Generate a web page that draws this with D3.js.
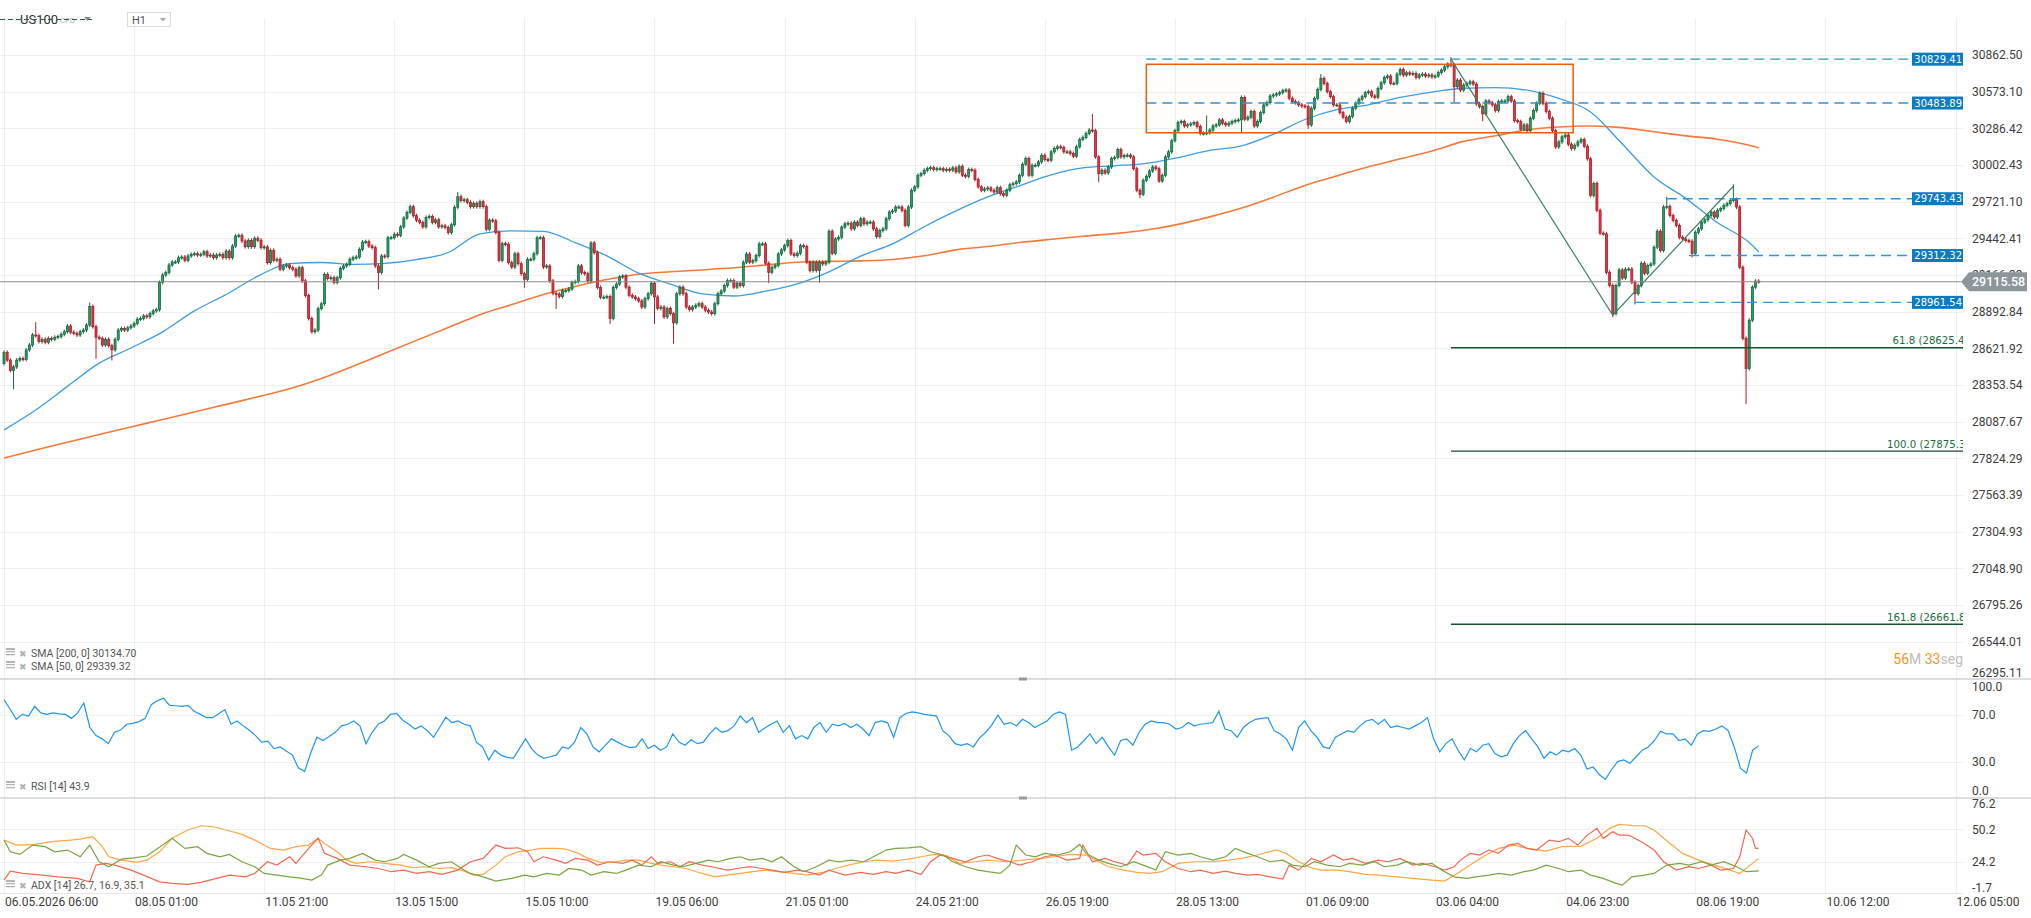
<!DOCTYPE html>
<html>
<head>
<meta charset="utf-8">
<title>US100 H1</title>
<script src="https://cdn.jsdelivr.net/npm/d3@7"></script>
<style>
  body { margin: 0; background: #fff; }
  svg { display: block; font-family: Roboto, 'Noto Sans', sans-serif; }
</style>
</head>
<body>
<svg id="chart" width="2031" height="918"></svg>
<script>
// ---- values ----
const timeLabels = ['06.05.2026 06:00', '08.05 01:00', '11.05 21:00', '13.05 15:00', '15.05 10:00',
  '19.05 06:00', '21.05 01:00', '24.05 21:00', '26.05 19:00', '28.05 13:00', '01.06 09:00',
  '03.06 04:00', '04.06 23:00', '08.06 19:00', '10.06 12:00', '12.06 05:00']
const priceTicks = [30862.50, 30573.10, 30286.42, 30002.43, 29721.10, 29442.41, 29166.33, 28892.84,
  28621.92, 28353.54, 28087.67, 27824.29, 27563.39, 27304.93, 27048.90, 26795.26, 26544.01, 26295.11]
const rsiTicks = [100, 70, 30, 0]
const adxTicks = [76.2, 50.2, 24.2, -1.7]

const firstOpen = 28510
const closes = [
  28592,28535,28460,28485,28535,28547,28540,28610,28646,28720,
  28715,28671,28688,28666,28695,28688,28703,28708,28725,28744,
  28786,28740,28732,28720,28744,28756,28793,28932,28781,28703,
  28695,28646,28688,28641,28610,28688,28756,28768,28756,28773,
  28786,28805,28837,28842,28861,28854,28878,28898,28907,29110,
  29166,29184,29241,29264,29264,29296,29301,29276,29309,29321,
  29326,29316,29321,29341,29309,29316,29296,29316,29321,29296,
  29346,29296,29384,29460,29465,29422,29379,29427,29379,29442,
  29427,29372,29377,29259,29351,29276,29284,29209,29234,29241,
  29221,29209,29159,29221,29122,29012,28842,28744,28756,28915,
  28951,29171,29139,29146,29110,29146,29216,29234,29246,29284,
  29296,29301,29359,29414,29417,29384,29372,29234,29184,29309,
  29304,29447,29447,29473,29465,29529,29596,29639,29683,29614,
  29580,29563,29529,29601,29609,29563,29583,29529,29537,29524,
  29486,29545,29678,29759,29729,29736,29716,29683,29708,29683,
  29721,29683,29511,29580,29575,29486,29276,29402,29397,29259,
  29226,29326,29251,29176,29134,29284,29284,29326,29447,29447,
  29226,29234,29122,29029,29024,29005,29049,29049,29061,29110,
  29117,29234,29184,29176,29122,29407,29334,29073,29000,29000,
  29005,28842,29073,29098,29151,29159,
  29075,29014,29002,28989,28972,28927,28989,29026,29105,29002,
  28916,28927,28854,28916,28878,28810,29026,29075,29026,28927,
  28908,28927,28940,28952,28927,28903,28890,28878,28952,29026,
  29046,29087,29124,29124,29075,29105,29087,29262,29324,29262,
  29274,29312,29400,29400,29254,29186,29224,29237,29324,29355,
  29387,29425,29324,29312,29329,29387,29380,29262,29199,29262,
  29199,29262,29249,29262,29496,29329,29437,29450,29527,29552,
  29557,29514,29565,29540,29591,29552,29565,29565,29514,29455,
  29501,29514,29591,29642,29650,29680,29680,29655,29540,29680,
  29808,29834,29923,29936,29962,29974,29982,29967,29974,29974,
  29962,29969,29962,29980,29949,29992,29923,29915,29967,29962,
  29890,29834,29808,29818,29826,29808,29795,29828,29782,29770,
  29808,29851,29859,29872,29923,30008,30052,29923,30000,30000,
  30026,30078,30044,30039,30104,30130,30143,30138,30104,30104,
  30091,30070,30143,30200,30216,30247,30273,30268,30065,29936,
  29962,29941,29987,30052,30060,30122,30065,30075,30078,30065,
  29974,29808,29777,29885,29915,29956,29987,29974,29879,29923,
  30065,30104,30190,30268,30331,30339,30305,30313,30321,30331,
  30300,30247,30247,30252,30273,30305,30313,30352,30326,30313,
  30326,30339,30347,30352,30528,30357,30373,30417,30305,30339,
  30409,30469,30487,30539,30547,30555,30565,30581,30586,30521,
  30495,30487,30469,30461,30456,30313,30443,30521,30591,30677,
  30638,30573,30534,30469,30469,30409,30373,30339,30378,30443,
  30482,30513,30534,30565,30573,30539,30529,30599,30643,30685,
  30696,30638,30638,30711,30748,30704,30722,30711,30717,30685,
  30704,30711,30696,30704,30690,30696,30724,30743,30769,30790,
  30780,30612,30664,30586,30625,30638,30651,30633,30477,30456,
  30399,30500,30487,30470,30425,30495,30500,
  30500,30534,30500,30346,30339,30279,30313,30268,30365,30425,
  30482,30560,30482,30417,30365,30268,30142,30181,30221,30234,
  30163,30129,30155,30181,30200,30147,30050,29769,29860,29655,
  29481,29476,29186,29088,28878,29088,29204,29144,29209,29211,
  29112,29026,29088,29254,29179,29237,29249,29375,29496,29350,
  29680,29685,29616,29578,29540,29450,29437,29425,29420,29329,
  29488,29514,29565,29583,29616,29642,29604,29655,29668,29693,
  29706,29732,29737,29680,29224,28695,28473,28829,29075,29120,
  29115.58
]
// long wicks that stand out (bar index, price)
const wickHighs = [[10, 28800], [27, 28946], [143, 29779], [343, 30383], [379, 30370], [415, 30696],
  [456, 30829.41], [524, 29743.43], [545, 29838.94]]
const wickLows = [[3, 28336], [29, 28560], [34, 28547], [118, 29073], [164, 29085], [174, 28927],
  [191, 28817], [205, 28817], [211, 28670], [241, 29120], [257, 29124], [345, 29885], [358, 29762],
  [390, 30273], [411, 30297], [457, 30503], [466, 30357], [507, 28865.82], [514, 28961.54],
  [532, 29312.32], [549, 28230]]

// moving averages, one value every 10 bars, last one at the last bar
const sma50 = [
  28028,28172,28343,28513,28624,28743,28898,29020,29157,29252,
  29260,29245,29253,29282,29335,29476,29499,29495,29410,29310,
  29180,29098,29025,29009,29045,29100,29190,29308,29400,29530,
  29650,29757,29842,29926,29980,29996,30015,30060,30115,30150,
  30240,30355,30432,30470,30528,30570,30600,30605,30585,30520,
  30414,30165,29910,29746,29560,29410,29339.32]
const sma200 = [
  27825,27884,27939,27995,28049,28103,28157,28212,28267,28325,
  28400,28490,28585,28680,28775,28870,28945,29020,29080,29132,
  29172,29190,29204,29220,29241,29262,29268,29272,29282,29310,
  29355,29380,29410,29435,29458,29478,29505,29548,29605,29672,
  29755,29845,29918,29988,30050,30110,30185,30228,30275,30297,
  30304,30292,30260,30228,30202,30155,30134.70]

// RSI 14, evenly spread over the bars
const rsi = [
  83.1,75,66.4,70.6,69.2,77.5,71.9,70.6,71.9,71,
  70.6,67.2,71.9,80.3,59.4,52.5,49.7,45.6,55.3,57.2,
  62.2,63,64.4,67.2,78.9,82.2,84.4,78.3,78,77.5,
  78.3,73.3,70.6,67.8,67.8,71.1,74.7,62.2,65,60.8,
  57,52.5,46.9,47.8,41.4,42.8,39.4,35.8,24.7,21.9,
  37.8,51.1,48.3,51.7,55.3,60.8,62.2,65,60.8,45.6,
  55.3,62.2,65,70.6,71.4,65.6,62.2,58.1,60.8,56.7,
  51.1,59.4,68.3,63.6,65,62.2,60.8,46.9,42.8,31.7,
  40,35.8,33.9,33.1,41.4,49.7,41.4,35.8,33.1,34.4,
  35.8,42.8,41.4,46.9,59.4,53.9,42.8,38.6,44.2,49.7,
  46.9,44.2,42.2,42.8,49.7,41.4,44.2,40,42.8,53.9,
  46.9,44.2,48.9,45.6,46.9,53.9,59.4,55.3,56.7,60.8,
  69.2,63.6,67.8,55.3,58.9,62.2,65,55.3,60.8,49.7,
  52.5,49.7,59.4,63.6,55.3,62.2,60.8,62.8,59.4,62.2,
  58.1,52.5,63.6,65,63.6,51.1,67.8,71.4,72.8,71.9,
  70.6,70,69.2,56.7,52.5,45.6,44.2,45.6,42.8,50.6,
  55.3,61.7,70,62.2,63.6,60.8,66.4,63.6,59.4,62.2,
  65,70.6,72.8,70.6,40,42.8,48.3,53.9,45.6,51.1,
  42.8,35.8,48.3,49.7,44.2,55.3,62.2,65,63.6,63.6,
  62.2,58.1,59.4,63.6,60.8,62.2,62.8,63.6,73.3,58.1,
  56.7,51.1,59.4,63.6,66.4,67.2,67.8,56.7,53.9,49.7,
  40,59.4,65,56.7,51.1,42.8,41.4,51.1,53.9,56.7,
  55.3,60.8,65,66.4,62.2,66.4,59.4,60.8,59.4,58.1,
  60.8,63.6,67.8,49.7,38.6,45.6,49.7,40,31.7,41.4,
  38.6,44.2,45.6,37.2,34.4,35.8,45.6,52.5,56.7,49.7,
  42.8,33.1,38.6,35.8,40,38.6,41.4,35.8,23.9,25.6,
  19.2,15,23.3,30.3,31.7,28.9,34.4,40,42.8,48.3,
  56.1,53.9,53.9,48.3,49.7,44.2,53.9,56.7,56.1,58.1,
  60.8,56.7,42.8,24.7,20.6,40,43.9]

// ADX 14 lines as [bar, value]
const adx = [[0,41.6],[4,37.6],[10,38.1],[15,40.3],[21,41.6],[24,42.4],[28,44.3],[31,36.3],[33,28.2],[37,25.5],
  [42,23.7],[45,25.5],[49,32.2],[53,43],[58,49.7],[62,53.1],[66,52.3],[70,49.7],[75,46.2],[79,41.6],
  [84,34.9],[88,33.6],[92,36.3],[96,37.6],[99,43],[101,38.9],[105,32.2],[108,25.5],[111,22.9],[115,24.2],
  [120,22.9],[125,21.5],[129,19.4],[132,20.2],[137,18.8],[141,19.4],[145,16.7],[148,13.5],[151,14],[155,21.5],
  [158,28.2],[162,32.2],[166,33.6],[169,34.9],[174,34.9],[177,34.4],[181,30.9],[184,26.9],[188,23.7],[193,24.2],
  [196,25.5],[200,25.5],[204,22.9],[207,21.5],[211,20.2],[215,18.8],[220,14.8],[224,12.1],[228,13.5],[232,14.8],
  [236,16.2],[240,17.5],[244,16.2],[249,14.8],[253,13.5],[258,15.6],[263,19.4],[266,21.5],[271,24.2],[275,25.5],
  [280,24.7],[285,26.3],[289,28.2],[293,30.1],[297,29.1],[301,22.9],[306,24.2],[310,25.5],[316,24.2],[321,25.5],
  [327,26.9],[331,28.2],[336,30.1],[341,29.6],[345,24.2],[348,20.2],[353,17.5],[357,15.6],[361,14.8],[365,16.2],
  [370,22.9],[375,24.2],[381,24.2],[386,25.5],[390,26.9],[395,29.6],[401,33.6],[404,30.9],[408,24.2],[412,19.4],
  [415,17.5],[420,17.5],[424,16.2],[429,14],[433,13.5],[439,12.1],[444,10.8],[450,9.5],[454,8.7],[458,14.8],
  [462,21.5],[467,29.6],[471,34.9],[476,37.6],[480,34.9],[486,32.8],[491,36.3],[497,36.8],[502,43],[506,51],
  [509,54.2],[514,53.1],[517,53.1],[520,49.7],[525,38.9],[529,30.9],[534,25.5],[539,21.5],[544,17.5],[547,14.8],
  [551,22.9],[553,26.7]]
const minusDi = [[0,9.5],[2,16.7],[6,14.8],[12,13.5],[17,12.1],[23,10.8],[27,8.1],[29,21.5],[32,22.9],[35,21.5],
  [40,17.5],[44,13.5],[49,8.1],[53,6.8],[58,6],[62,7.6],[67,10.8],[71,13.5],[76,12.1],[79,14.8],
  [83,24.2],[86,21.5],[90,28.2],[92,22.9],[96,34.9],[99,43],[101,30.9],[105,26.9],[109,21.5],[114,20.2],
  [118,18.8],[122,16.2],[126,17.5],[130,14.8],[134,16.2],[138,14],[143,17.5],[147,24.2],[151,26.9],[155,37.6],
  [158,34.9],[162,35.4],[165,32.2],[167,24.2],[170,28.2],[174,25.5],[177,22.9],[180,26.9],[184,25.5],[187,21.5],
  [191,24.2],[195,22.9],[198,25.5],[201,21.5],[204,28.2],[206,22.9],[210,24.2],[213,20.2],[216,24.2],[220,21.5],
  [223,20.2],[228,17.5],[231,18.8],[235,20.2],[239,18.8],[242,17.5],[246,15.6],[250,17.5],[253,16.2],[257,13.5],
  [260,17.5],[265,13.5],[270,15.6],[274,14],[278,16.2],[281,14.8],[285,17.5],[289,14],[292,24.2],[295,29.6],
  [299,26.9],[303,24.2],[307,28.2],[310,29.6],[313,26.9],[317,24.2],[320,21.5],[324,24.2],[328,28.2],[331,29.6],
  [335,25.5],[339,26.9],[340,37.6],[343,24.2],[347,26.9],[350,24.2],[354,21.5],[357,32.8],[359,29.6],[363,30.9],
  [366,24.2],[370,18.8],[374,16.2],[377,17.5],[381,14.8],[385,16.7],[388,14.8],[392,13.5],[395,14],[399,12.1],
  [403,10.3],[405,21.5],[408,17.5],[412,26.9],[415,24.2],[419,29.6],[422,25.5],[425,26.9],[429,22.9],[433,25.5],
  [436,24.2],[440,26.9],[444,21.5],[447,22.9],[451,20.2],[454,17.5],[457,20.2],[459,25.5],[462,30.9],[465,29.6],
  [468,33.6],[471,30.9],[474,37.6],[477,38.9],[480,34.9],[483,33.6],[487,41.6],[490,40.3],[493,43],[496,37.6],
  [499,45.6],[502,51],[504,43],[507,48.3],[509,45.6],[512,45.6],[516,40.3],[520,33.6],[523,24.2],[527,17.5],
  [531,20.2],[534,18.8],[538,21.5],[541,17.5],[545,18.8],[547,28.2],[549,49.7],[551,43.1],[552,34.9],[553,35.1]]
const plusDi = [[0,41.6],[2,32.2],[5,30.1],[9,37.6],[13,36.3],[16,32.2],[20,33.6],[24,28.2],[27,37.6],[30,24.2],
  [33,20.2],[37,26.3],[41,27.3],[45,28.8],[50,37.6],[53,43],[57,34.9],[61,36.3],[64,30.9],[68,28.2],
  [71,30.1],[75,24.2],[79,20.2],[82,14.8],[86,13.5],[90,12.1],[93,11.3],[97,9.5],[100,13.5],[102,21.5],
  [106,25.5],[109,26.9],[113,30.9],[117,25.5],[120,24.2],[124,26.9],[126,30.1],[130,25.5],[134,20.2],[137,22.9],
  [141,24.2],[145,17.5],[147,14.8],[151,12.1],[155,8.7],[160,10.8],[164,13.5],[167,12.1],[171,14.8],[175,13.5],
  [178,18.8],[182,17.5],[185,13.5],[189,16.2],[193,14.8],[196,17.5],[200,21.5],[204,20.2],[207,24.2],[211,21.5],
  [214,20.2],[218,22.9],[222,25.5],[225,24.2],[229,26.9],[232,28.2],[235,25.5],[239,26.9],[242,24.2],[245,28.2],
  [249,20.2],[252,16.2],[256,20.2],[260,25.5],[263,24.2],[267,25.5],[271,24.2],[274,28.2],[278,33.6],[281,34.9],
  [285,35.4],[289,36.3],[292,32.2],[296,29.6],[299,24.2],[303,20.2],[307,17.5],[310,16.2],[314,14.8],[317,21.5],
  [319,37.6],[322,29.6],[325,28.2],[328,30.9],[332,29.6],[336,32.2],[339,38.1],[341,30.9],[345,25.5],[348,22.9],
  [352,20.2],[356,24.2],[359,21.5],[363,17.5],[366,32.2],[370,29.6],[374,30.9],[377,28.2],[381,25.5],[385,28.2],
  [388,34.9],[392,30.9],[395,28.2],[399,24.2],[403,25.5],[406,21.5],[410,20.2],[413,24.2],[417,21.5],[421,20.2],
  [424,22.9],[428,21.5],[432,24.2],[435,20.2],[439,21.5],[442,24.2],[446,21.5],[450,22.9],[453,17.5],[457,12.1],
  [461,10.8],[464,12.1],[468,13.5],[471,14.8],[475,13.5],[479,16.2],[482,17.5],[486,21.5],[490,18.8],[493,16.2],
  [497,17.5],[500,13.5],[504,10.8],[508,6.8],[510,5.4],[513,12.1],[517,13.5],[520,14.8],[524,21.5],[528,22.9],
  [531,21.5],[535,24.2],[538,21.5],[542,24.2],[546,20.2],[549,16.2],[552,16.7],[553,16.9]]

// drawings on the chart
const levels = [30829.41, 30483.89, 29743.43, 29312.32, 28961.54]
const levelFrom = [360, 360, 524, 531, 514]
const zone = { from: 360, to: 494.5, top: 30789, bottom: 30252 }
const fibPoints = [[456, 30829.41], [507, 28865.82], [545, 29838.94]]
const fibRatios = [61.8, 100, 161.8]
const lastPrice = 29115.58

// ---- layout ----
const barsPerLabel = 41
const plotRight = 1963
const main = { top: 18, bottom: 679 }
const rsiPanel = { top: 680, bottom: 797 }
const adxPanel = { top: 797, bottom: 894 }
const N = closes.length

const svg = d3.select('#chart')
const x = d3.scaleLinear().domain([0, barsPerLabel * 15]).range([4, 1955.5])
const y = d3.scaleLog().domain([priceTicks[0], priceTicks[priceTicks.length - 1]]).range([55, 678.2])
const yR = d3.scaleLinear().domain([0, 100]).range([rsiPanel.bottom, rsiPanel.top])
const yA = d3.scaleLinear().domain([-1.7, 76.2]).range([adxPanel.bottom, adxPanel.top])

svg.append('defs').append('clipPath').attr('id', 'plotClip')
  .append('rect').attr('x', 0).attr('y', 0).attr('width', plotRight).attr('height', 918)

// grid
const grid = svg.append('g').attr('stroke', '#efefef').attr('stroke-width', 1)
timeLabels.forEach((t, k) => {
  const gx = Math.round(x(k * barsPerLabel)) + 0.5
  grid.append('line').attr('x1', gx).attr('x2', gx).attr('y1', main.top).attr('y2', 893)
})
priceTicks.forEach(p => {
  const gy = Math.round(y(p)) + 0.5
  grid.append('line').attr('x1', 0).attr('x2', plotRight).attr('y1', gy).attr('y2', gy)
})
;[70, 30].forEach(v => grid.append('line').attr('x1', 0).attr('x2', plotRight)
  .attr('y1', Math.round(yR(v)) + 0.5).attr('y2', Math.round(yR(v)) + 0.5))
;[50.2, 24.2].forEach(v => grid.append('line').attr('x1', 0).attr('x2', plotRight)
  .attr('y1', Math.round(yA(v)) + 0.5).attr('y2', Math.round(yA(v)) + 0.5))
grid.append('line').attr('x1', 0).attr('x2', plotRight).attr('y1', 893.5).attr('y2', 893.5).attr('stroke', '#e6e6e6')

// panel dividers
;[main.bottom, rsiPanel.bottom + 1].forEach(dy => {
  svg.append('line').attr('x1', 0).attr('x2', 2031).attr('y1', dy).attr('y2', dy)
    .attr('stroke', '#d2d2d2').attr('stroke-width', 1.5)
  svg.append('rect').attr('x', 1019).attr('y', dy - 1.5).attr('width', 8).attr('height', 3).attr('fill', '#9a9a9a')
})

// zone rectangle fill
svg.append('rect')
  .attr('x', x(zone.from)).attr('y', y(zone.top))
  .attr('width', x(zone.to) - x(zone.from)).attr('height', y(zone.bottom) - y(zone.top))
  .attr('fill', 'rgba(255,240,225,0.1)')

// moving averages
const smaX = (arr, j) => x(j < arr.length - 1 ? j * 10 : N - 1)
const smaLine = arr => d3.line().x((d, j) => smaX(arr, j)).y(d => y(d)).curve(d3.curveMonotoneX)(arr)
svg.append('path').attr('d', smaLine(sma200)).attr('fill', 'none').attr('stroke', '#f47a3b').attr('stroke-width', 1.6)
svg.append('path').attr('d', smaLine(sma50)).attr('fill', 'none').attr('stroke', '#3d9de2').attr('stroke-width', 1.3)

// candles
const highMap = new Map(wickHighs)
const lowMap = new Map(wickLows)
const candles = closes.map((c, i) => {
  const o = i ? closes[i - 1] : firstOpen
  return { i, o, c, h: highMap.get(i) ?? Math.max(o, c), l: lowMap.get(i) ?? Math.min(o, c) }
})
const cg = svg.append('g')
const bodyW = 2
cg.selectAll('line').data(candles).join('line')
  .attr('x1', d => x(d.i)).attr('x2', d => x(d.i))
  .attr('y1', d => y(d.h) - 2).attr('y2', d => y(d.l) + 2)
  .attr('stroke', d => d.c >= d.o ? '#16693f' : '#a91f2a').attr('stroke-width', 1)
cg.selectAll('rect').data(candles).join('rect')
  .attr('x', d => x(d.i) - bodyW / 2)
  .attr('y', d => y(Math.max(d.o, d.c)))
  .attr('width', bodyW)
  .attr('height', d => Math.max(1, y(Math.min(d.o, d.c)) - y(Math.max(d.o, d.c))))
  .attr('fill', d => d.c >= d.o ? '#27a064' : '#e6333f')
  .attr('stroke', d => d.c >= d.o ? '#16693f' : '#a91f2a').attr('stroke-width', 0.8)

// zone border
svg.append('rect')
  .attr('x', x(zone.from)).attr('y', y(zone.top))
  .attr('width', x(zone.to) - x(zone.from)).attr('height', y(zone.bottom) - y(zone.top))
  .attr('fill', 'none').attr('stroke', '#ef5a0c').attr('stroke-width', 1.5)

// horizontal price levels with tags
levels.forEach((p, k) => {
  const ly = y(p)
  svg.append('line').attr('x1', x(levelFrom[k])).attr('x2', 1913).attr('y1', ly).attr('y2', ly)
    .attr('stroke', '#3592d4').attr('stroke-width', 1.4).attr('stroke-dasharray', '10,6')
  svg.append('rect').attr('x', 1912).attr('y', ly - 6.5).attr('width', 51).attr('height', 13).attr('fill', '#0b7bc1')
  svg.append('text').attr('x', 1962).attr('y', ly + 3.7).attr('text-anchor', 'end')
    .attr('fill', '#fff').attr('font-family', 'DejaVu Sans').attr('font-size', 10)
    .text(p.toFixed(2))
})

// fibonacci drawing
const [A, B, C] = fibPoints
svg.append('path').attr('d', d3.line().x(d => x(d[0])).y(d => y(d[1]))(fibPoints))
  .attr('fill', 'none').attr('stroke', '#3a8560').attr('stroke-width', 1.2)
const fibG = svg.append('g').attr('clip-path', 'url(#plotClip)')
fibRatios.forEach(r => {
  const lv = C[1] - r / 100 * (A[1] - B[1])
  const ly = y(lv)
  fibG.append('line').attr('x1', x(A[0])).attr('x2', plotRight).attr('y1', ly).attr('y2', ly)
    .attr('stroke', '#14532f').attr('stroke-width', 1.4)
  fibG.append('text').attr('x', r === 61.8 ? 1892.5 : 1887).attr('y', ly - 3.5)
    .attr('fill', '#1d6b45').attr('font-family', 'DejaVu Sans').attr('font-size', 10.2)
    .text(`${r.toFixed(1)} (${lv.toFixed(2)})`)
})

// current price line
const cy = y(lastPrice)
svg.append('line').attr('x1', 0).attr('x2', 1961).attr('y1', cy).attr('y2', cy)
  .attr('stroke', '#8b8b8b').attr('stroke-width', 1.2)

// RSI
svg.append('path')
  .attr('d', d3.line().x((d, j) => x(j * (N - 1) / (rsi.length - 1))).y(d => yR(d))(rsi))
  .attr('fill', 'none').attr('stroke', '#2196f3').attr('stroke-width', 1.2)

// ADX
const adxLine = d3.line().x(d => x(d[0])).y(d => yA(d[1]))
;[[adx, '#ffa645'], [minusDi, '#ef6a50'], [plusDi, '#7aa540']].forEach(([arr, col]) => {
  svg.append('path').attr('d', adxLine(arr)).attr('fill', 'none').attr('stroke', col).attr('stroke-width', 1.2)
})

// axis labels
const axisText = svg.append('g').attr('fill', '#3d3d3d').attr('font-size', 12)
function sideLabels (ticks, scale, panel, fmt) {
  ticks.forEach(v => {
    const ty = Math.min(Math.max(scale(v), panel.top + 7), panel.bottom - 6)
    axisText.append('text').attr('x', 1972).attr('y', ty + 4.3).text(fmt(v))
  })
}
sideLabels(priceTicks, y, main, v => v.toFixed(2))
sideLabels(rsiTicks, yR, rsiPanel, v => v.toFixed(1))
sideLabels(adxTicks, yA, adxPanel, v => v.toFixed(1))
timeLabels.forEach((t, k) => {
  axisText.append('text').attr('x', x(k * barsPerLabel) + 1).attr('y', 906).text(t)
})

// current price tag
svg.append('path')
  .attr('d', `M1961,${cy} L1969,${cy - 9.5} L2027,${cy - 9.5} L2027,${cy + 9.5} L1969,${cy + 9.5} Z`)
  .attr('fill', '#8d979b')
svg.append('text').attr('x', 1972).attr('y', cy + 4.6).attr('fill', '#fff')
  .attr('font-size', 12.5).attr('font-weight', 500).text(lastPrice.toFixed(2))

// legends
function legendRow (yb, label) {
  const g = svg.append('g')
  ;[0, 3, 6].forEach(o => g.append('rect').attr('x', 6).attr('y', yb - 9 + o).attr('width', 9)
    .attr('height', o ? 1.3 : 2).attr('fill', '#b4b4b4'))
  g.append('text').attr('x', 19).attr('y', yb).attr('font-family', 'DejaVu Sans').attr('font-size', 9)
    .attr('fill', '#b0b0b0').text('✖')
  g.append('text').attr('x', 31).attr('y', yb).attr('font-size', 10.5).attr('fill', '#555').text(label)
}
legendRow(657, `SMA [200, 0] ${sma200[sma200.length - 1].toFixed(2)}`)
legendRow(670, `SMA [50, 0] ${sma50[sma50.length - 1].toFixed(2)}`)
legendRow(790, `RSI [14] ${rsi[rsi.length - 1].toFixed(1)}`)
legendRow(889, `ADX [14] ${adx[adx.length - 1][1].toFixed(1)}, ${plusDi[plusDi.length - 1][1].toFixed(1)}, ${minusDi[minusDi.length - 1][1].toFixed(1)}`)

// countdown
const timer = svg.append('text').attr('x', plotRight).attr('y', 664).attr('text-anchor', 'end').attr('font-size', 14)
timer.append('tspan').attr('fill', '#f7941d').text('56')
timer.append('tspan').attr('fill', '#bdbdbd').text('M ')
timer.append('tspan').attr('fill', '#f7941d').text('33')
timer.append('tspan').attr('fill', '#bdbdbd').text('seg')

// header
svg.append('text').attr('x', 20).attr('y', 24).attr('font-size', 13).attr('fill', '#333').text('US100')
svg.append('text').attr('x', 60).attr('y', 23).attr('font-size', 8).attr('fill', '#aaa').text('CFD')
svg.append('path').attr('d', 'M84,17 L91,17 L87.5,21 Z').attr('fill', '#888')
svg.append('line').attr('x1', 0).attr('x2', 92).attr('y1', 19.5).attr('y2', 19.5)
  .attr('stroke', '#24694a').attr('stroke-width', 1).attr('stroke-dasharray', '5,3')
svg.append('rect').attr('x', 127.5).attr('y', 12.5).attr('width', 43).attr('height', 14)
  .attr('fill', '#fff').attr('stroke', '#dcdcdc')
svg.append('text').attr('x', 132).attr('y', 24).attr('font-size', 11).attr('fill', '#555').text('H1')
svg.append('path').attr('d', 'M160,18 L166,18 L163,21.5 Z').attr('fill', '#aaa')
</script>
</body>
</html>
